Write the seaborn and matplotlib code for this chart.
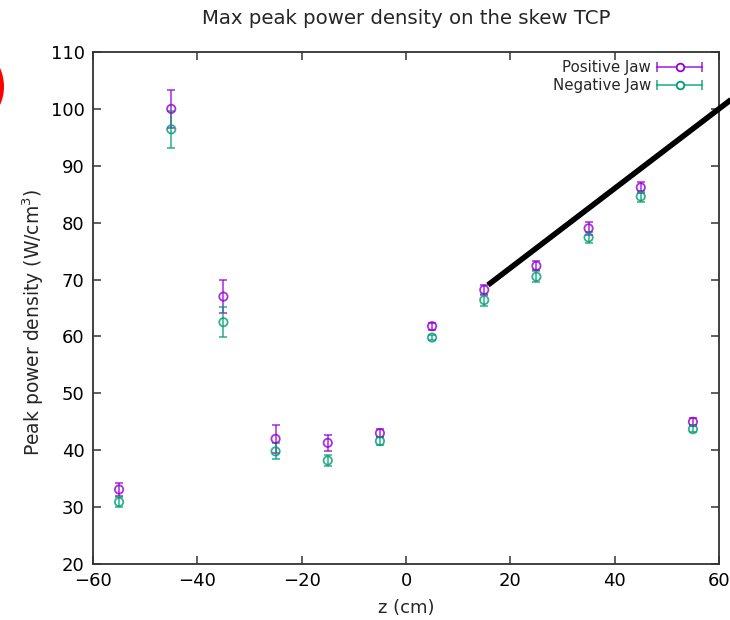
import numpy as np
import pandas as pd
import matplotlib
matplotlib.use("Agg")
import matplotlib.pyplot as plt
import seaborn as sns
from matplotlib.lines import Line2D
from matplotlib.patches import Circle
from matplotlib.legend_handler import HandlerBase

z = [-55, -45, -35, -25, -15, -5, 5, 15, 25, 35, 45, 55]
pos_vals = [33.1, 100.0, 67.0, 42.0, 41.3, 43.0, 61.8, 68.2, 72.4, 79.0, 86.2, 45.0]
pos_err = [1.1, 3.3, 2.9, 2.5, 1.4, 0.7, 0.6, 0.9, 0.8, 1.1, 1.0, 0.6]
neg_vals = [30.9, 96.4, 62.5, 39.8, 38.2, 41.6, 59.8, 66.4, 70.5, 77.4, 84.6, 43.7]
neg_err = [0.9, 3.3, 2.6, 1.4, 1.0, 0.7, 0.5, 1.0, 1.0, 1.0, 1.0, 0.5]
series = ["Positive Jaw", "Negative Jaw"]
colors = ["#9400d3", "#009e73"]

df = pd.DataFrame({
    "z": z * 2,
    "val": pos_vals + neg_vals,
    "err": pos_err + neg_err,
    "series": [series[0]] * len(z) + [series[1]] * len(z),
})

sns.set_theme(style="ticks")
plt.rcParams['font.family'] = ['DejaVu Sans']

W, H = 730, 620
fig = plt.figure(figsize=(W / 100, H / 100), dpi=100)
ax = fig.add_axes([93 / W, 1 - 564 / H, (719 - 93) / W, (564 - 52) / H])


class HErrHandler(HandlerBase):
    def create_artists(self, legend, orig_handle, xdescent, ydescent,
                       width, height, fontsize, trans):
        col = orig_handle.get_color()
        y = height / 2 - ydescent
        x0, x1 = -xdescent, -xdescent + width
        line = Line2D([x0, x1], [y, y], color=col, lw=1.3, alpha=0.75)
        caps = Line2D([x0, x1], [y, y], ls="none", marker="|", ms=7,
                      mew=1.3, color=col, alpha=0.75)
        mk = Line2D([(x0 + x1) / 2], [y], ls="none", marker="o", ms=5.5,
                    mfc="white", mec=col, mew=1.3)
        arts = [line, caps, mk]
        for a in arts:
            a.set_transform(trans)
        return arts


handles = []
for name, col in zip(series, colors):
    d = df[df["series"] == name]
    ax.errorbar(d["z"], d["val"], yerr=d["err"], fmt="none", ecolor=col,
                elinewidth=1.3, capsize=3, capthick=1.3, alpha=0.7, zorder=3)
    sns.scatterplot(data=d, x="z", y="val", ax=ax, marker="o", s=36,
                    color=col, legend=False, zorder=4)
    coll = ax.collections[-1]
    coll.set_facecolor("none")
    coll.set_edgecolor(col)
    coll.set_linewidth(1.3)
    coll.set_alpha(0.8)
    handles.append(Line2D([], [], color=col))

ax.set_xlim(-60, 60)
ax.set_ylim(20, 110)
ax.set_xticks(range(-60, 61, 20))
ax.set_yticks(range(20, 111, 10))
ax.tick_params(direction="in", length=6, width=1.2, colors="#444444",
               labelcolor="black", labelsize=13, top=True, right=True, pad=6)
for s in ax.spines.values():
    s.set_linewidth(1.3)
    s.set_color("#333333")

ax.set_xlabel("z (cm)", fontsize=13, labelpad=6)
ax.set_ylabel("Peak power density (W/cm$^3$)", fontsize=13.5)
ax.yaxis.set_label_coords((46 - 93) / 626, 1 - (322 - 52) / 512)
fig.text(406 / W, 1 - 18 / H, "Max peak power density on the skew TCP",
         ha="center", va="center", fontsize=14.2)

leg = ax.legend(handles, series, loc="upper right", frameon=False,
                markerfirst=False, fontsize=10.8, handlelength=3.0,
                labelspacing=0.2, borderaxespad=0, borderpad=0,
                handletextpad=0.4,
                bbox_to_anchor=((702 - 93) / 626, 1 - (60 - 52) / 512),
                handler_map={Line2D: HErrHandler()})

# annotation line and red mark (figure pixel coordinates)
x0, y0, x1, y1 = 488, 285, 745, 89
fig.add_artist(Line2D([x0 / W, x1 / W], [1 - y0 / H, 1 - y1 / H],
                      transform=fig.transFigure, color="black", lw=4,
                      solid_capstyle="butt", zorder=10))
fig.add_artist(Circle((-41, H - 86.5), 45, transform=None, fill=True,
                      facecolor="red", edgecolor="none", zorder=10))

fig.savefig("out.png", dpi=100)
